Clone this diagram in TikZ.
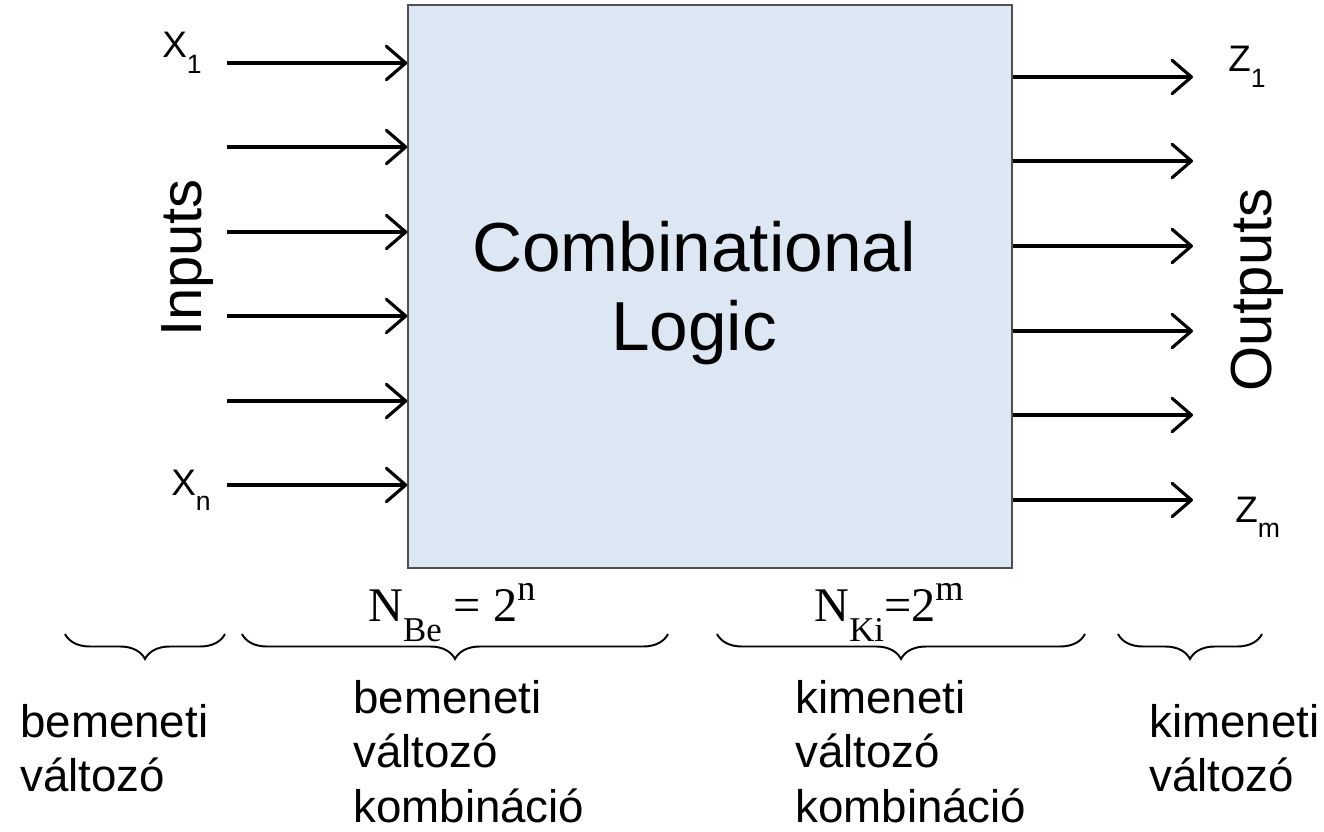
\documentclass[tikz,border=0pt]{standalone}
\usepackage{fontspec}
\setmainfont{Liberation Sans}
\newfontfamily\timesfont{Liberation Serif}
\usepackage{tikz}
\usetikzlibrary{
    arrows.meta,
    decorations.pathreplacing
}

\definecolor{boxfill}{RGB}{221,231,243}
\definecolor{boxline}{RGB}{80,80,80}

\newcommand{\lowsub}[1]{\raisebox{-0.42em}{\scalebox{0.72}{#1}}}
\newcommand{\highsup}[1]{\raisebox{0.42em}{\scalebox{0.75}{#1}}}

\tikzset{
    signal/.style={line width=1.8pt, -{Straight Barb[length=11pt, width=19pt, round]}},
    logicbox/.style={draw=boxline, fill=boxfill, line width=0.9pt, inner sep=0pt},
    varlabel/.style={inner sep=0pt, anchor=base west, font=\fontsize{21}{25}\selectfont},
    sidelabel/.style={inner sep=0pt, rotate=90, font=\fontsize{33}{40}\selectfont},
    countlabel/.style={inner sep=0pt, anchor=base west, font=\timesfont\fontsize{27.5}{32}\selectfont},
    notelabel/.style={inner sep=0pt, anchor=north west, align=left, font=\fontsize{26}{31}\selectfont},
    bracedeco/.style={line width=1.1pt, decorate, decoration={brace, mirror, amplitude=0.5cm}}
}

\begin{document}
\begin{tikzpicture}[x=0.02cm, y=-0.02cm]
            \useasboundingbox (0,0) rectangle (1324,831);

            % Box
            \node[logicbox, minimum width=12.08cm, minimum height=11.26cm] (logic) at (710,286.5) {};
            \node[inner sep=0pt, align=center, font=\fontsize{39.5}{45}\selectfont] (title) at (694,293) {Combinational\\Logic};

            % Inputs
            \foreach \i/\y in {1/63, 2/147, 3/232, 4/316, 5/401, 6/485} {
                \coordinate (in\i) at (227,\y);
                \draw[signal] (in\i) -- (in\i -| logic.west);
            }
            \node[varlabel] (x1) at (162,58) {X\lowsub{1}};
            \node[varlabel] (xn) at (171,495) {X\lowsub{n}};
            \node[sidelabel] (inputs) at (188,258) {Inputs};

            % Outputs
            \foreach \i/\y in {1/77, 2/161, 3/246, 4/331, 5/415, 6/500} {
                \coordinate (out\i) at (1193,\y);
                \draw[signal] (out\i -| logic.east) -- (out\i);
            }
            \node[varlabel] (z1) at (1228,72) {Z\lowsub{1}};
            \node[varlabel] (zm) at (1235,522) {Z\lowsub{m}};
            \node[sidelabel] (outputs) at (1257,290) {Outputs};

            % Counts
            \node[countlabel] (nbe) at (368,621) {N\lowsub{Be} = 2\highsup{n}};
            \node[countlabel] (nki) at (814,621) {N\lowsub{Ki}=2\highsup{m}};

            % Braces
            \draw[bracedeco] (65,634) -- (225,634);
            \draw[bracedeco] (242,634) -- (668,634);
            \draw[bracedeco] (717,634) -- (1085,634);
            \draw[bracedeco] (1118,634) -- (1262,634);

            % Notes
            \node[notelabel] (invar) at (20,704) {bemeneti\\változó};
            \node[notelabel] (incomb) at (353,680) {bemeneti\\változó\\kombináció};
            \node[notelabel] (outcomb) at (795,680) {kimeneti\\változó\\kombináció};
            \node[notelabel] (outvar) at (1149,704) {kimeneti\\változó};
        \end{tikzpicture}
\end{document}
